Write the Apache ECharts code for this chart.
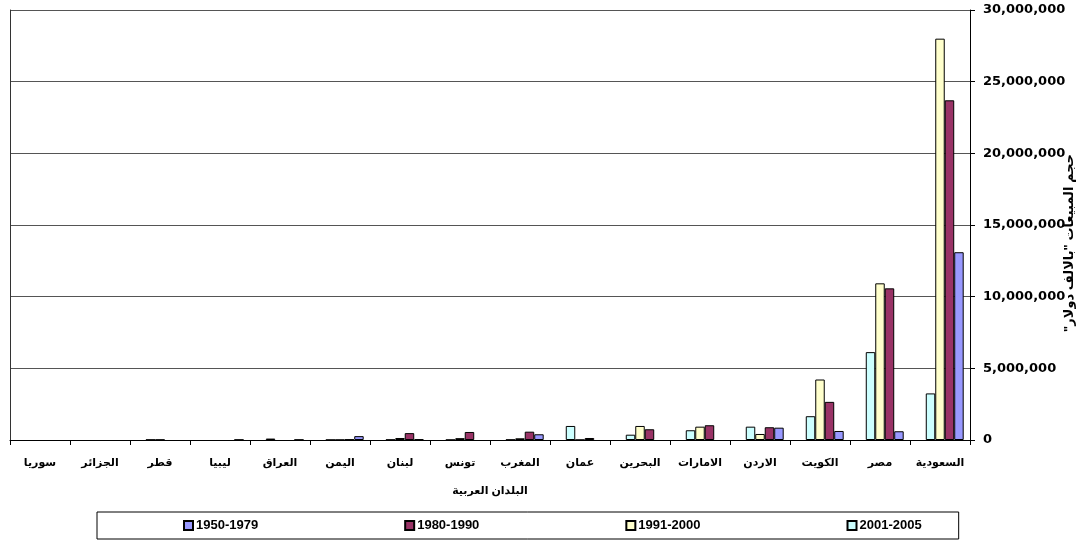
<!DOCTYPE html>
<html>
<head>
<meta charset="utf-8">
<script src="https://cdn.jsdelivr.net/npm/echarts@6/dist/echarts.min.js"></script>
<style>html,body{margin:0;padding:0;background:#fff}#c{width:1078px;height:550px}</style>
</head>
<body>
<div id="c"></div>
<script>
const categories = ['السعودية','مصر','الكويت','الاردن','الامارات','البحرين','عمان','المغرب','تونس','لبنان','اليمن','العراق','ليبيا','قطر','الجزائر','سوريا'];
const s1950_1979 = [13100000, 610000, 630000, 860000, null, null, null, 400000, null, 50000, 270000, 20000, 20000, null, null, null];
const s1980_1990 = [23700000, 10580000, 2660000, 890000, 1030000, 750000, 140000, 580000, 560000, 480000, 40000, null, null, null, null, null];
const s1991_2000 = [28000000, 10930000, 4220000, 420000, 930000, 980000, 10000, 120000, 130000, 140000, 10000, null, null, 20000, null, null];
const s2001_2005 = [3250000, 6130000, 1660000, 930000, 680000, 370000, 980000, 20000, 10000, 20000, 10000, 100000, null, 20000, null, null];
const seriesNames = ['1950-1979','1980-1990','1991-2000','2001-2005'];
const yTicks = { min: 0, max: 30000000, interval: 5000000 };
const yName = 'حجم المبيعات "بالالف دولار"\u200F';
const xName = 'البلدان العربية';

const FONT = 'Arial, "Liberation Sans", "DejaVu Sans", sans-serif';
const colors = { '1950-1979': '#9999FF', '1980-1990': '#993366', '1991-2000': '#FFFFCC', '2001-2005': '#CCFFFF' };
const dataByName = { '1950-1979': s1950_1979, '1980-1990': s1980_1990, '1991-2000': s1991_2000, '2001-2005': s2001_2005 };

function barSeries(name) {
  return {
    name: name, type: 'bar', data: dataByName[name], yAxisIndex: 0,
    barGap: '0%', barCategoryGap: '21%',
    itemStyle: { color: colors[name], borderColor: '#000', borderWidth: 1 },
    emphasis: { disabled: true }, animation: false
  };
}

const chart = echarts.init(document.getElementById('c'), null, { renderer: 'canvas' });
chart.setOption({
  animation: false,
  textStyle: { fontFamily: FONT },
  grid: { left: 10, right: 108, top: 10, bottom: 110, containLabel: false, outerBoundsMode: 'none' },
  legend: {
    data: seriesNames,
    left: 97, top: 512,
    padding: [7, 37, 7, 86],
    itemGap: 146, itemWidth: 9, itemHeight: 9,
    icon: 'rect',
    borderColor: '#000', borderWidth: 1,
    textStyle: { fontFamily: FONT, fontWeight: 'bold', fontSize: 13, color: '#000', padding: [0,0,0,-2] },
    selectedMode: false
  },
  xAxis: {
    type: 'category', data: categories, inverse: true,
    axisLine: { lineStyle: { color: '#000', width: 1 } },
    axisTick: { show: true, length: 5, lineStyle: { color: '#000' } },
    axisLabel: { interval: 0, fontFamily: FONT, fontWeight: 'bold', fontSize: 11, color: '#000', margin: 17 },
    name: xName, nameLocation: 'middle', nameGap: 45, nameMoveOverlap: false,
    nameTextStyle: { fontFamily: FONT, fontWeight: 'bold', fontSize: 11, color: '#000' }
  },
  yAxis: [{
    type: 'value', position: 'right',
    min: yTicks.min, max: yTicks.max, interval: yTicks.interval,
    axisLine: { show: true, lineStyle: { color: '#000', width: 1 } },
    axisTick: { show: true, length: 5, lineStyle: { color: '#000' } },
    splitLine: { show: true, lineStyle: { color: '#555', width: 1 } },
    axisLabel: {
      fontFamily: '"DejaVu Sans", sans-serif', fontWeight: 'bold', fontSize: 13, color: '#000', margin: 13,
      formatter: v => v.toLocaleString('en-US')
    },
    name: yName, nameLocation: 'middle', nameGap: 93, nameRotate: 90, nameMoveOverlap: false,
    nameTextStyle: { fontFamily: FONT, fontWeight: 'bold', fontSize: 13, color: '#000', padding: [0, 36, 0, 0] }
  }, {
    type: 'value', position: 'left',
    min: yTicks.min, max: yTicks.max, interval: yTicks.interval,
    axisLine: { show: true, lineStyle: { color: '#333', width: 1 } },
    axisTick: { show: false }, axisLabel: { show: false }, splitLine: { show: false }
  }],
  series: [
    { name: '', type: 'bar', data: categories.map(() => null), barGap: '0%', barCategoryGap: '21%', silent: true },
    barSeries('2001-2005'),
    barSeries('1991-2000'),
    barSeries('1980-1990'),
    barSeries('1950-1979')
  ]
});
</script>
</body>
</html>
